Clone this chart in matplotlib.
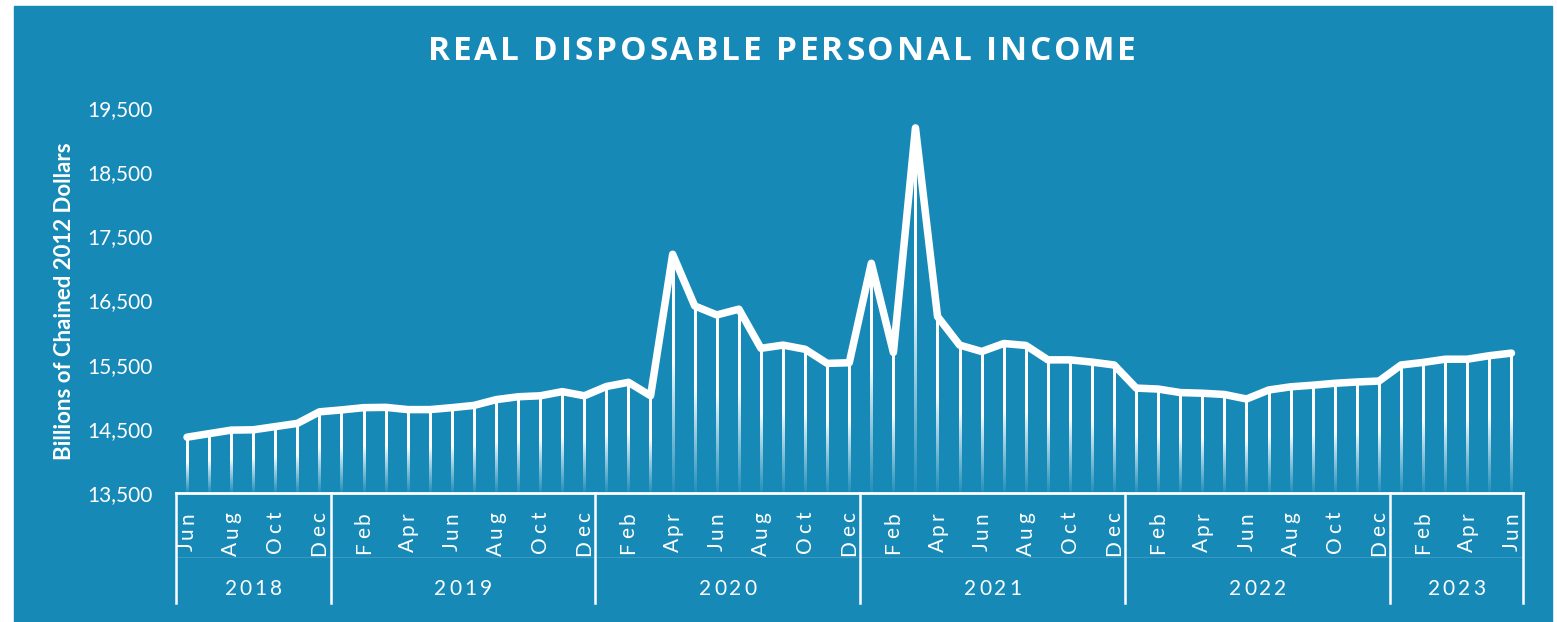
import numpy as np
import matplotlib
matplotlib.use("Agg")
import matplotlib.pyplot as plt
from matplotlib.font_manager import FontProperties, findfont
from matplotlib.ft2font import FT2Font
from matplotlib.patches import Rectangle

# Real disposable personal income, billions of chained 2012 dollars, Jun 2018 - Jun 2023
years = ["2018", "2019", "2020", "2021", "2022", "2023"]
month_names = ["Jan", "Feb", "Mar", "Apr", "May", "Jun",
               "Jul", "Aug", "Sep", "Oct", "Nov", "Dec"]
start_month = 5  # June
income = [
    # 2018 Jun-Dec
    14370, 14425, 14480, 14485, 14535, 14585, 14765,
    # 2019
    14795, 14830, 14835, 14800, 14800, 14830, 14865, 14955, 15000, 15015, 15080, 15015,
    # 2020
    15160, 15225, 15015, 17220, 16415, 16275, 16365, 15755, 15805, 15740, 15520, 15530,
    # 2021
    17080, 15690, 19190, 16250, 15805, 15705, 15830, 15800, 15575, 15575, 15540, 15495,
    # 2022
    15135, 15120, 15065, 15055, 15035, 14965, 15105, 15155, 15180, 15210, 15230, 15245,
    # 2023 Jan-Jun
    15495, 15535, 15585, 15585, 15640, 15680,
]
y_ticks = [13500, 14500, 15500, 16500, 17500, 18500, 19500]

BLUE = "#1789b7"
W, H = 1557, 622

n = len(income)
x = np.arange(n)
months = [month_names[(start_month + i) % 12] for i in range(n)]
year_of = [int(years[0]) + (start_month + i) // 12 for i in range(n)]

fig = plt.figure(figsize=(W / 100, H / 100), dpi=100)
fig.patch.set_facecolor("white")
fig.patches.append(Rectangle((14 / W, 0), (1552 - 14) / W, (H - 6) / H,
                             transform=fig.transFigure, color=BLUE, zorder=-5))

ax = fig.add_axes([176 / W, 1 - 493 / H, (1522.5 - 176) / W, (493 - 108) / H])
ax.set_zorder(1)
ax.patch.set_alpha(0)
for side in ("top", "right", "left"):
    ax.spines[side].set_visible(False)
ax.spines["bottom"].set_color("white")
ax.spines["bottom"].set_linewidth(2)
ax.set_xticks([])
ax.set_yticks(y_ticks)
ax.set_yticklabels([f"{t:,}" for t in y_ticks])
ax.tick_params(axis="y", length=0, pad=17, labelcolor="white")
for lab in ax.get_yticklabels():
    lab.set_fontproperties(FontProperties(family="Lato", size=15))

# drop lines: thin white gradient strips, solid near the curve and fading toward the axis
base = y_ticks[0]
t = np.linspace(0, 1, 200)
fade = np.where(t < 0.45, 1.0, 1.0 - 0.95 * ((t - 0.45) / 0.55) ** 0.9)
strip = np.ones((len(t), 1, 4))
strip[:, 0, 3] = fade
half_w = 1.1 / 22.08
for xi, v in zip(x, income):
    ax.imshow(strip, extent=(xi - half_w, xi + half_w, base, v), origin="upper",
              aspect="auto", interpolation="bilinear", zorder=2)

ax.plot(x, income, color="white", lw=5.4, solid_joinstyle="round",
        solid_capstyle="round", zorder=3, clip_on=False)

ax.set_xlim(-0.5, n - 0.5)
ax.set_ylim(y_ticks[0], y_ticks[-1])

# year separators and the faint divider between month and year rows
xt = ax.get_xaxis_transform()
sep_bottom = (493 - 603) / 385
bounds = [-0.5] + [i + 0.5 for i in range(n - 1) if year_of[i] != year_of[i + 1]] + [n - 0.5]
for b in bounds:
    ax.plot([b, b], [0, sep_bottom], color="white", lw=1.8, transform=xt, clip_on=False)
mid = (493 - 557) / 385
ax.plot([-0.5, n - 0.5], [mid, mid], color="white", lw=0.8, alpha=0.15,
        transform=xt, clip_on=False)


def advances(s, prop):
    font = FT2Font(findfont(prop))
    font.set_size(prop.get_size_in_points(), fig.dpi)
    out = []
    for c in s:
        g = font.load_char(ord(c))
        out.append(g.linearHoriAdvance / 65536)
    return out


def spaced_text(s, px, py, prop, tracking=0.0, width=None, rotation=0, align="center"):
    """Place s glyph by glyph with extra letter spacing; px, py in figure pixels."""
    adv = advances(s, prop)
    if width is not None:
        tracking = (width - sum(adv)) / (len(s) - 1)
    total = sum(adv) + tracking * (len(s) - 1)
    pos = {"center": -total / 2, "end": -total, "start": 0}[align]
    for c, a in zip(s, adv):
        if rotation == 90:
            cx, cy = px, py + pos
        else:
            cx, cy = px + pos, py
        fig.text(cx / W, cy / H, c, fontproperties=prop, color="white",
                 rotation=rotation, rotation_mode="anchor", ha="left", va="center")
        pos += a + tracking


title_font = FontProperties(family="Open Sans", weight="bold", size=24)
spaced_text("REAL DISPOSABLE PERSONAL INCOME", 782, H - 51, title_font, width=708)

label_font = FontProperties(family="Lato", size=15)
for i in range(0, n, 2):
    px = ax.transData.transform((x[i], base))[0]
    spaced_text(months[i], px, H - 512, label_font, tracking=3.5, rotation=90, align="end")

for k in range(len(bounds) - 1):
    xc = (bounds[k] + bounds[k + 1]) / 2
    px = ax.transData.transform((xc, base))[0]
    spaced_text(years[k], px, H - 589, label_font, tracking=3.0)

fig.text(65 / W, 1 - 301 / H, "Billions of Chained 2012 Dollars", rotation=90,
         ha="center", va="center", color="white",
         fontproperties=FontProperties(family="Lato", weight="bold", size=16))

fig.savefig("out.png", dpi=100, facecolor=fig.get_facecolor())
